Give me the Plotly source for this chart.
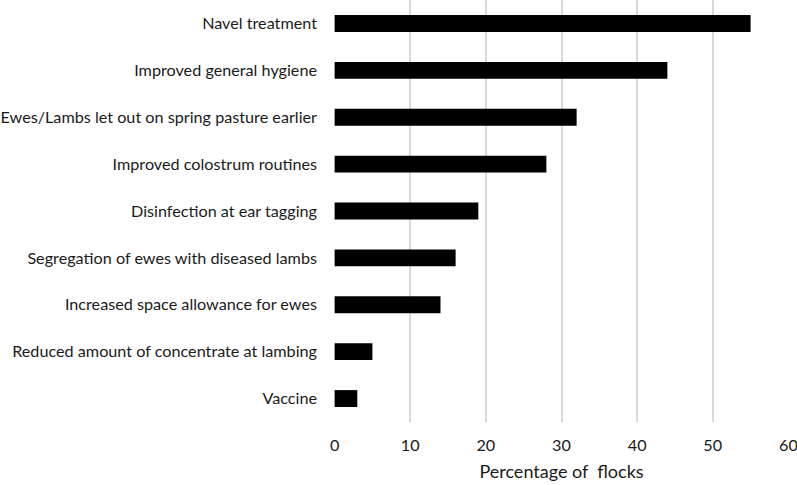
import plotly.graph_objects as go

categories = [
    "Navel treatment",
    "Improved general hygiene",
    "Ewes/Lambs let out on spring pasture earlier",
    "Improved colostrum routines",
    "Disinfection at ear tagging",
    "Segregation of ewes with diseased lambs",
    "Increased space allowance for ewes",
    "Reduced amount of concentrate at lambing",
    "Vaccine",
]
values = [55, 44, 32, 28, 19, 16, 14, 5, 3]
x_ticks = [0, 10, 20, 30, 40, 50, 60]

fig = go.Figure(go.Bar(
    x=values,
    y=categories,
    orientation="h",
    marker=dict(color="black", line=dict(width=0)),
))

fig.update_layout(
    width=797, height=485,
    margin=dict(l=334, r=8, t=0, b=63),
    plot_bgcolor="white", paper_bgcolor="white",
    font=dict(family="Lato, Open Sans, sans-serif", size=16.2, color="#1a1a1a"),
    bargap=0.64,
    showlegend=False,
    xaxis=dict(
        range=[-0.08, 60.08], tickvals=x_ticks, showgrid=True, gridcolor="#d9d9d9", gridwidth=1.5,
        zeroline=False, showline=False, ticks="", ticklabelstandoff=12,
        ticklabeloverflow="allow",
        title=dict(text="Percentage of  flocks", standoff=12, font=dict(size=18)),
        automargin=False,
    ),
    yaxis=dict(
        categoryorder="array", categoryarray=categories[::-1],
        showgrid=False, zeroline=False, showline=False, ticks="", ticklabelstandoff=16,
        automargin=False,
    ),
)

fig.write_html(
    "out.html",
    config={"displayModeBar": False},
    post_script="document.body.style.margin='0';document.body.style.overflow='hidden';",
)
